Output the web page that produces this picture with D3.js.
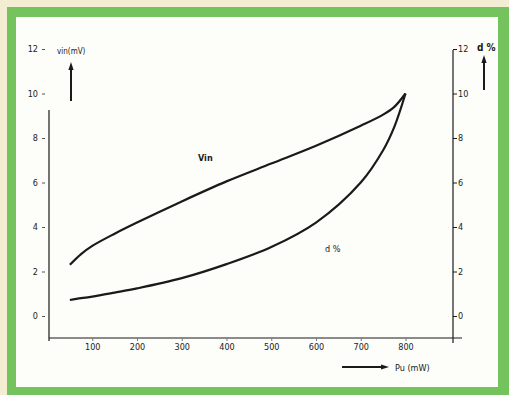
<!DOCTYPE html>
<html>
<head>
<meta charset="utf-8">
<script src="https://cdn.jsdelivr.net/npm/d3@7"></script>
<style>
  html, body { margin: 0; padding: 0; background: #f3eed3; }
  svg { display: block; }
  .tick text { font-family: "Liberation Sans Narrow", "DejaVu Sans Condensed", sans-serif; fill: #222; }
</style>
</head>
<body>
<svg id="chart" width="509" height="395"></svg>
<script>
// output power Pu (mW)
const pu = [50, 75, 100, 150, 200, 300, 400, 500, 600, 700, 750, 775, 800];
// input voltage Vin (mV)
const vin = [2.3, 2.78, 3.15, 3.7, 4.2, 5.15, 6.05, 6.85, 7.65, 8.55, 9.05, 9.4, 10];
// distortion d %
const dist = [0.72, 0.8, 0.87, 1.05, 1.24, 1.7, 2.33, 3.1, 4.2, 6.0, 7.45, 8.5, 10];

const xTicks = [100, 200, 300, 400, 500, 600, 700, 800];
const yTicks = [0, 2, 4, 6, 8, 10, 12];

const svg = d3.select("#chart");
const ink = "#1a1a1a";
const font = '"Liberation Sans Narrow", "DejaVu Sans Condensed", sans-serif';

// frame
svg.append("rect").attr("x", 7).attr("y", 7).attr("width", 502).attr("height", 388).attr("fill", "#74c35c");
svg.append("rect").attr("x", 16).attr("y", 17).attr("width", 482).attr("height", 370).attr("fill", "#fdfdf9");

const x = d3.scaleLinear().domain([0, 800]).range([47.5, 405.5]);
const y = d3.scaleLinear().domain([0, 12]).range([316, 49]);

// axis lines
svg.append("line").attr("x1", 49).attr("x2", 49).attr("y1", 110).attr("y2", 341)
  .attr("stroke", ink).attr("stroke-width", 1.2);
svg.append("line").attr("x1", 49).attr("x2", 462).attr("y1", 338).attr("y2", 338)
  .attr("stroke", ink).attr("stroke-width", 1.2);
svg.append("line").attr("x1", 453).attr("x2", 453).attr("y1", 50).attr("y2", 343)
  .attr("stroke", ink).attr("stroke-width", 1.2);

// left ticks
const left = svg.append("g").attr("transform", "translate(45,0)")
  .call(d3.axisLeft(y).tickValues(yTicks).tickSize(3).tickPadding(4));
left.select(".domain").remove();
left.selectAll(".tick line").attr("stroke", "#555");
left.selectAll(".tick text").attr("font-size", 9);

// right ticks
const right = svg.append("g").attr("transform", "translate(453,0)")
  .call(d3.axisRight(y).tickValues(yTicks).tickSize(4).tickPadding(1));
right.select(".domain").remove();
right.selectAll(".tick line").attr("stroke", ink);
right.selectAll(".tick text").attr("font-size", 9);

// bottom ticks
const bottom = svg.append("g").attr("transform", "translate(0,338)")
  .call(d3.axisBottom(x).tickValues(xTicks).tickSize(3).tickPadding(3));
bottom.select(".domain").remove();
bottom.selectAll(".tick line").attr("stroke", "#777");
bottom.selectAll(".tick text").attr("font-size", 9);

// curves
const line = d3.line().x((d) => x(d[0])).y((d) => y(d[1])).curve(d3.curveCatmullRom.alpha(0.5));
[vin, dist].forEach((series) => {
  svg.append("path")
    .attr("d", line(pu.map((p, i) => [p, series[i]])))
    .attr("fill", "none")
    .attr("stroke", ink)
    .attr("stroke-width", 2.2)
    .attr("stroke-linejoin", "round");
});

// arrows
function arrow(x1, y1, x2, y2) {
  const ang = Math.atan2(y2 - y1, x2 - x1);
  const len = 8, half = 2.6;
  const bx = x2 - len * Math.cos(ang), by = y2 - len * Math.sin(ang);
  svg.append("line").attr("x1", x1).attr("y1", y1).attr("x2", bx).attr("y2", by)
    .attr("stroke", ink).attr("stroke-width", 2);
  svg.append("path")
    .attr("d", `M${x2},${y2}L${bx - half * Math.sin(ang)},${by + half * Math.cos(ang)}L${bx + half * Math.sin(ang)},${by - half * Math.cos(ang)}Z`)
    .attr("fill", ink);
}
arrow(71, 101, 71, 62);
arrow(484, 90, 484, 55);
arrow(342, 367, 389, 367);

// labels
function label(tx, ty, text, size, weight) {
  svg.append("text").attr("x", tx).attr("y", ty).text(text)
    .attr("font-family", font).attr("font-size", size)
    .attr("font-weight", weight || "normal").attr("fill", ink);
}
label(57, 54, "vin(mV)", 8);
label(477, 51, "d %", 10, "bold");
label(198, 161, "Vin", 9, "bold");
label(325, 252, "d %", 9);
label(395, 371, "Pu  (mW)", 9);
</script>
</body>
</html>
